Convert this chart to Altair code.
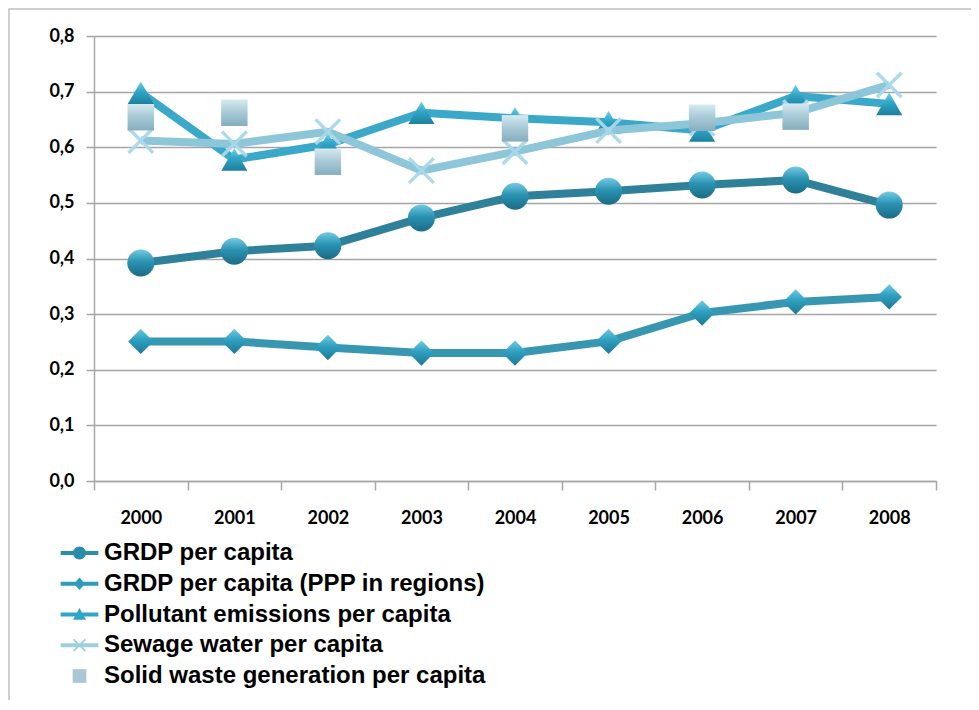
import altair as alt
import pandas as pd

# ---------------- data ----------------
years = ["2000", "2001", "2002", "2003", "2004", "2005", "2006", "2007", "2008"]
series_names = [
    "GRDP per capita",
    "GRDP per capita (PPP in regions)",
    "Pollutant emissions per capita",
    "Sewage water per capita",
    "Solid waste generation per capita",
]
grdp = [0.392, 0.413, 0.423, 0.473, 0.512, 0.521, 0.532, 0.541, 0.496]
grdp_ppp = [0.251, 0.251, 0.240, 0.230, 0.230, 0.251, 0.302, 0.322, 0.331]
pollutant = [0.698, 0.578, 0.605, 0.662, 0.652, 0.645, 0.630, 0.692, 0.678]
sewage = [0.612, 0.606, 0.628, 0.558, 0.592, 0.630, 0.643, 0.662, 0.712]
solid_waste = [0.654, 0.662, 0.574, None, 0.634, None, 0.653, 0.655, None]

all_values = [grdp, grdp_ppp, pollutant, sewage, solid_waste]
rows = []
for name, vals in zip(series_names, all_values):
    for yr, v in zip(years, vals):
        if v is not None:
            rows.append({"year": yr, "series": name, "value": v})
df = pd.DataFrame(rows)

# ---------------- styles ----------------
W, H = 842, 445
GRID = "#A6A6A6"
AXIS_FONT = "Lato"

line_colors = ["#2E8199", "#3797B1", "#3AA8C8", "#8DC5D9", None]
legend_colors = ["#2A8DAB", "#2E9BBB", "#31A5C8", "#9CCFE0", "#A9C6D2"]


def grad(top, mid, bottom):
    return alt.LinearGradient(
        gradient="linear", x1=0.5, x2=0.5, y1=0, y2=1,
        stops=[alt.GradientStop(offset=0, color=top),
               alt.GradientStop(offset=0.45, color=mid),
               alt.GradientStop(offset=1, color=bottom)])


x_path = "M-0.82,-1 L1,0.82 L0.82,1 L-1,-0.82 Z M0.82,-1 L1,-0.82 L-0.82,1 L-1,0.82 Z"

markers = [
    dict(shape="circle", size=729, fill=grad("#74CBE3", "#2A93B3", "#1B6B83")),
    dict(shape="diamond", size=640, fill=grad("#6FCAE4", "#2E9FC0", "#1F7893")),
    dict(shape="triangle-up", size=680, fill=grad("#6FD0EA", "#2FA6C8", "#1E7F9C")),
    dict(shape=x_path, size=729, fill="#A8D8EA"),
    dict(shape="square", size=700, fill=grad("#D6EAF1", "#AACBD8", "#86AEBE")),
]

# legend symbols: short line + marker (custom paths, unit box -1..1)
bar = "M-2.9,-0.3 L2.9,-0.3 L2.9,0.3 L-2.9,0.3 Z "
legend_paths = [
    bar + "M-1,0 A1,1 0 1,1 1,0 A1,1 0 1,1 -1,0 Z",
    bar + "M0,-0.95 L0.85,0 L0,0.95 L-0.85,0 Z",
    bar + "M0,-1 L1,0.8 L-1,0.8 Z",
    bar + x_path,
    "M-1.05,-1.05 L1.05,-1.05 L1.05,1.05 L-1.05,1.05 Z",
]

x_enc = alt.X(
    "year:O",
    bandPosition=0.5,
    scale=alt.Scale(type="band", domain=years, paddingInner=0, paddingOuter=0),
    axis=alt.Axis(
        title=None, labelAngle=0, tickBand="extent", grid=False,
        labelFont=AXIS_FONT, labelFontSize=18, labelFontWeight="bold",
        labelColor="#000000", labelPadding=19, tickSize=9, tickColor=GRID,
        tickWidth=1.5, domainColor=GRID, domainWidth=1.5,
    ),
)
y_enc = alt.Y(
    "value:Q",
    scale=alt.Scale(domain=[0, 0.8], nice=False, zero=True),
    axis=alt.Axis(
        title=None, values=[0, 0.1, 0.2, 0.3, 0.4, 0.5, 0.6, 0.7, 0.8],
        labelExpr="replace(format(datum.value, '.1f'), '.', ',')",
        labelFont=AXIS_FONT, labelFontSize=18, labelFontWeight="bold",
        labelColor="#000000", labelPadding=12, tickSize=8, tickColor=GRID,
        tickWidth=1.5, domainColor=GRID, domainWidth=1.5,
        grid=True, gridColor=GRID, gridWidth=1.5,
    ),
)

layers = []

# outer frame
frame = alt.Chart(pd.DataFrame({"f": [0]})).mark_rect(
    filled=False, stroke="#BFBFBF", strokeWidth=1.5
).encode(
    x=alt.value(-85), x2=alt.value(W + 200),
    y=alt.value(-27), y2=alt.value(H + 400),
)
layers.append(frame)

for i, name in enumerate(series_names):
    base = alt.Chart(df).transform_filter(alt.datum.series == name)
    if line_colors[i] is not None:
        layers.append(
            base.mark_line(color=line_colors[i], strokeWidth=8, strokeJoin="round")
            .encode(x=x_enc, y=y_enc)
        )
    m = markers[i]
    layers.append(
        base.mark_point(
            filled=True, shape=m["shape"], size=m["size"], fill=m["fill"],
            opacity=0.95 if i == 3 else 1, strokeWidth=0,
        ).encode(x=x_enc, y=y_enc)
    )

legend_common = dict(
    title=None, orient="none", legendX=-26.5, legendY=505, direction="vertical",
    labelFont="Liberation Sans", labelFontSize=24, labelFontWeight="bold",
    labelColor="#000000", symbolSize=169, labelOffset=12.5, rowPadding=6.75,
    padding=0, symbolStrokeWidth=0, labelLimit=700,
)

legend_layer = alt.Chart(df).transform_filter("false").mark_point(
    filled=True, opacity=1
).encode(
    x=x_enc, y=y_enc,
    shape=alt.Shape("series:N", sort=series_names,
                    scale=alt.Scale(domain=series_names, range=legend_paths),
                    legend=alt.Legend(**legend_common)),
    color=alt.Color("series:N", sort=series_names,
                    scale=alt.Scale(domain=series_names, range=legend_colors),
                    legend=alt.Legend(**legend_common)),
)
layers.append(legend_layer)

chart = alt.layer(*layers).properties(
    width=W, height=H,
    autosize=alt.AutoSizeParams(type="none"),
    padding={"left": 86, "top": 28, "right": 35, "bottom": 219},
    background="white",
).configure_view(stroke=None)

chart.save("out.html", embed_options={"renderer": "svg", "actions": False})
